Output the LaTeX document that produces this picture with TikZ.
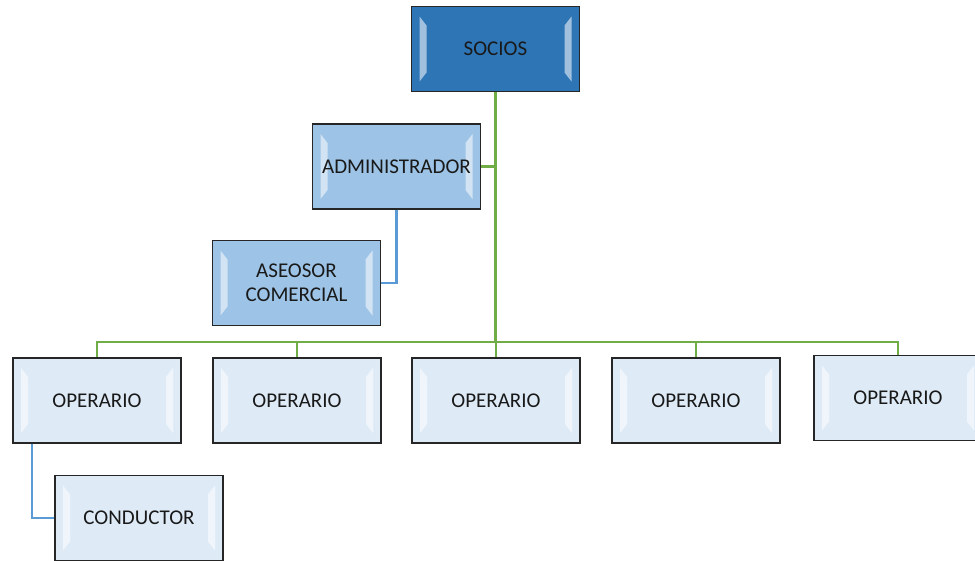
\documentclass[tikz,border=0pt]{standalone}
\usepackage{fontspec}
\setmainfont{Carlito}
\usetikzlibrary{calc}
\tikzset{>=latex}
\definecolor{azulsocio}{HTML}{2E75B6}
\definecolor{azulmedio}{HTML}{9DC3E6}
\definecolor{azulclaro}{HTML}{DEEBF7}
\definecolor{verderama}{HTML}{70AD47}
\definecolor{azulrama}{HTML}{5B9BD5}
% brillo lateral de las cajas
\newcommand\bisel{%
  \fill[white,opacity=.55]
    ($(path picture bounding box.north west)+(8pt,-10pt)$) -- ++(7pt,-9pt)
    -- ($(path picture bounding box.south west)+(15pt,19pt)$) -- ++(-7pt,-9pt) -- cycle;
  \fill[white,opacity=.55]
    ($(path picture bounding box.north east)+(-8pt,-10pt)$) -- ++(-7pt,-9pt)
    -- ($(path picture bounding box.south east)+(-15pt,19pt)$) -- ++(7pt,-9pt) -- cycle;}
\tikzset{
  cargo/.style={draw=black!85, line width=1.8pt, minimum width=168pt,
    minimum height=85pt, align=center, text=black!90,
    font=\fontsize{21}{24}\selectfont, path picture={\bisel}},
  ramaverde/.style={draw=verderama, line width=2.5pt},
  ramaazul/.style={draw=azulrama, line width=2.5pt}
}
\begin{document}
\begin{tikzpicture}[x=1pt,y=-1pt]
  \useasboundingbox (0,0) rectangle (975,560);
  % puntos de union de las ramas
  \coordinate (bus) at (495.5,342);
  \coordinate (nudo) at (495.5,166.5);
  \node[cargo, fill=azulsocio] (socios) at (495.5,49) {SOCIOS};
  \node[cargo, fill=azulmedio] (admin) at (396.5,166.5) {ADMINISTRADOR};
  \node[cargo, fill=azulmedio] (asesor) at (296.5,283) {ASEOSOR\\COMERCIAL};
  \foreach \x/\n in {97/1,297/2,496/3,696/4}
    \node[cargo, fill=azulclaro] (op\n) at (\x,400.5) {OPERARIO};
  \node[cargo, fill=azulclaro] (op5) at (898,398) {OPERARIO};
  \node[cargo, fill=azulclaro] (conductor) at (139,518) {CONDUCTOR};
  \draw[ramaverde] (socios.south) -- (bus);
  \draw[ramaverde] (admin.east) -- (nudo);
  \foreach \n in {1,...,5}
    \draw[ramaverde] (op\n.north) |- (bus);
  \draw[ramaazul] (admin.south) |- (asesor.east);
  \draw[ramaazul] ([xshift=-65pt]op1.south) |- (conductor.west);
\end{tikzpicture}
\end{document}
